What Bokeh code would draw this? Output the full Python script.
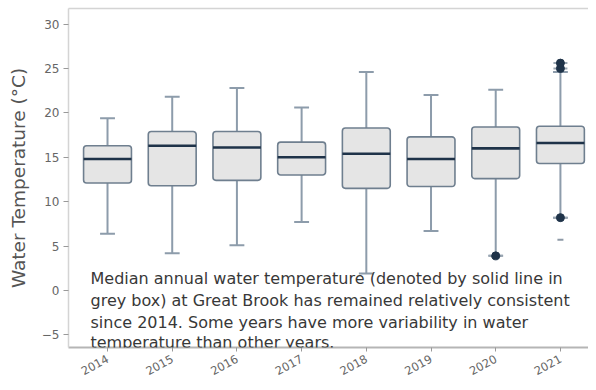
from bokeh.plotting import figure
from bokeh.models import Range1d, FixedTicker, Label, LinearAxis
from bokeh.embed import file_html
from bokeh.resources import INLINE

years = ["2014", "2015", "2016", "2017", "2018", "2019", "2020", "2021"]
lower = [6.4, 4.2, 5.1, 7.7, 1.9, 6.7, 3.9, 8.2]
q1 = [12.1, 11.8, 12.4, 13.0, 11.5, 11.7, 12.6, 14.3]
median = [14.8, 16.3, 16.1, 15.0, 15.4, 14.8, 16.0, 16.6]
q3 = [16.3, 17.9, 17.9, 16.7, 18.3, 17.3, 18.4, 18.5]
upper = [19.4, 21.8, 22.8, 20.6, 24.6, 22.0, 22.6, 24.6]

out_years = ["2020", "2021", "2021", "2021"]
out_values = [3.9, 25.0, 25.6, 8.2]
faint_years = ["2021"]
faint_values = [5.7]

y_ticks = [-5, 0, 5, 10, 15, 20, 25, 30]
note_lines = [
    "Median annual water temperature (denoted by solid line in",
    "grey box) at Great Brook has remained relatively consistent",
    "since 2014. Some years have more variability in water",
    "temperature than other years.",
]

# year -> position on the x scale
pos = {y: i for i, y in enumerate(years)}
xs = [pos[y] for y in years]
out_x = [pos[y] for y in out_years]
faint_x = [pos[y] for y in faint_years]

p = figure(
    width=588, height=382,
    x_range=Range1d(-0.603, 7.434),
    y_range=Range1d(-6.42, 31.75),
    output_backend="svg", toolbar_location=None,
    min_border_left=68, min_border_right=0, min_border_top=8, min_border_bottom=32,
)
p.grid.visible = False
p.outline_line_color = None
p.background_fill_color = "white"

frame_grey = "#d4d4d4"
top_axis = LinearAxis(ticker=FixedTicker(ticks=[]), axis_line_color=frame_grey,
                      axis_line_width=1.5, major_tick_line_color=None,
                      minor_tick_line_color=None, major_label_text_font_size="0px")
p.add_layout(top_axis, "above")

box_line = "#6f7f8f"
whisk = "#8d9cab"
navy = "#1f3349"

# whiskers
p.segment(x0=xs, y0=q3, x1=xs, y1=upper, line_color=whisk, line_width=2)
p.segment(x0=xs, y0=q1, x1=xs, y1=lower, line_color=whisk, line_width=2)
p.vbar(x=xs, top=upper, bottom=upper, width=0.23, line_color=whisk, line_width=2, fill_alpha=0)
p.vbar(x=xs, top=lower, bottom=lower, width=0.23, line_color=whisk, line_width=2, fill_alpha=0)

# boxes
p.vbar(x=xs, top=q3, bottom=q1, width=0.74, fill_color="#e5e5e5",
       line_color=box_line, line_width=1.6, border_radius=3)
p.vbar(x=xs, top=median, bottom=median, width=0.74, line_color=navy,
       line_width=2.6, fill_alpha=0)

# outliers
p.scatter(x=out_x, y=out_values, marker="dash", size=14, line_color="#9aa6b2", line_width=2)
p.scatter(x=out_x, y=out_values, marker="circle", size=8, fill_color=navy, line_color=navy)
p.scatter(x=faint_x, y=faint_values, marker="dash", size=6, line_color="#8d99a6", line_width=2)

# axes
yax = p.yaxis[0]
yax.ticker = FixedTicker(ticks=y_ticks)
yax.axis_label = "Water Temperature (°C)"
yax.axis_label_text_font = "DejaVu Sans"
yax.axis_label_text_font_size = "18.5px"
yax.axis_label_text_font_style = "normal"
yax.axis_label_text_color = "#555555"
yax.axis_label_standoff = 10
yax.axis_line_color = frame_grey
yax.axis_line_width = 1.5
yax.major_tick_line_color = "#999999"
yax.major_tick_out = 5
yax.major_tick_in = 0
yax.minor_tick_line_color = None
yax.major_label_text_font = "DejaVu Sans"
yax.major_label_text_font_size = "12px"
yax.major_label_text_color = "#666666"
yax.major_label_standoff = 4

xax = p.below[0]
xax.ticker = FixedTicker(ticks=xs)
xax.major_label_overrides = {x: y for x, y in zip(xs, years)}
xax.axis_line_color = "#b5b5b5"
xax.axis_line_width = 2
xax.major_tick_line_color = "#999999"
xax.major_tick_out = 4
xax.major_tick_in = 0
xax.minor_tick_line_color = None
xax.major_label_orientation = 0.5
xax.major_label_text_font = "DejaVu Sans"
xax.major_label_text_font_size = "11.5px"
xax.major_label_text_color = "#666666"
xax.major_label_standoff = 6

line_y = [1.35, -1.13, -3.6, -5.86]
for txt, yy in zip(note_lines, line_y):
    p.add_layout(Label(x=-0.263, y=yy, text=txt, text_font="DejaVu Sans",
                       text_font_size="16px", text_color="#383838",
                       text_baseline="middle", text_align="left"))

open("out.html", "w").write(file_html(p, INLINE))
